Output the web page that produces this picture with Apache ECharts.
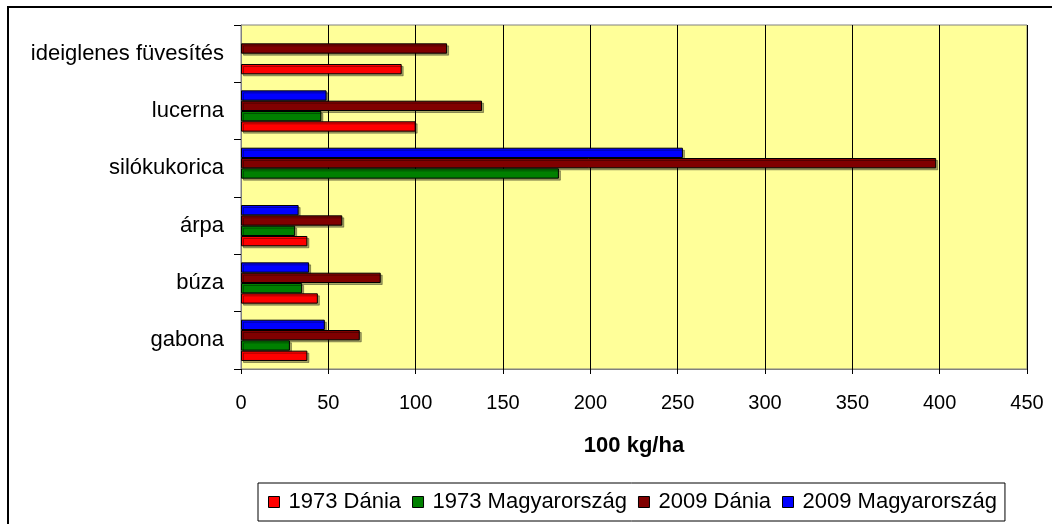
<!DOCTYPE html>
<html>
	<head>
		<meta charset="utf-8" />
		<title>Hozamok</title>
		<script src="https://cdn.jsdelivr.net/npm/echarts@6/dist/echarts.min.js"></script>
		<style>
			html, body { margin: 0; padding: 0; background: #fff; }
			#main { width: 1052px; height: 524px; }
		</style>
	</head>
	<body>
		<div id="main"></div>
	<script>
	// adatok
	var categories = ['gabona', 'búza', 'árpa', 'silókukorica', 'lucerna', 'ideiglenes füvesítés'];
	var dania1973 = [38, 44, 38, '-', 100, 92];
	var magyar1973 = [28, 35, 31, 182, 46, '-'];
	var dania2009 = [68, 80, 58, 398, 138, 118];
	var magyar2009 = [48, 39, 33, 253, 49, '-'];
	var seriesNames = ['1973 Dánia', '1973 Magyarország', '2009 Dánia', '2009 Magyarország'];
	var seriesColors = ['#FF0000', '#008000', '#800000', '#0000FF'];
	var xTicks = [0, 450, 50];

	var chart = echarts.init(document.getElementById('main'));

	function bar(i, data){
		return {
			name: seriesNames[i],
			type: 'bar',
			data: data,
			barGap: '0%',
			barCategoryGap: '28%',
			itemStyle: {
				color: seriesColors[i],
				borderColor: '#000',
				borderWidth: 1,
				shadowColor: 'rgba(0,0,0,0.35)',
				shadowOffsetX: 2,
				shadowOffsetY: 2
			}
		};
	}

	var option = {
		animation: false,
		textStyle: { fontFamily: 'Arial, "Liberation Sans", sans-serif', color: '#000' },
		graphic: [{
			type: 'rect',
			shape: { x: 8, y: 7, width: 1100, height: 600 },
			style: { fill: 'none', stroke: '#000', lineWidth: 2 },
			z: 0
		}],
		grid: {
			left: 241, right: 25, top: 25, bottom: 155,
			show: true,
			backgroundColor: '#FFFF99',
			borderColor: '#808080',
			borderWidth: 1
		},
		legend: {
			left: 258, top: 483,
			itemWidth: 11, itemHeight: 11, itemGap: 11,
			padding: [8, 8, 8, 10],
			borderColor: '#000', borderWidth: 1,
			icon: 'rect',
			textStyle: { fontSize: 22, color: '#000', padding: [0, 0, 0, 4] },
			data: seriesNames.map(function(n, i){
				return { name: n, itemStyle: { borderColor: '#000', borderWidth: 1, shadowColor: 'transparent' } };
			})
		},
		xAxis: {
			type: 'value',
			min: xTicks[0], max: xTicks[1], interval: xTicks[2],
			name: '100 kg/ha',
			nameLocation: 'middle',
			nameGap: 66,
			nameTextStyle: { fontSize: 22, fontWeight: 'bold', color: '#000' },
			axisLine: { show: true, lineStyle: { color: '#808080' } },
			axisTick: { show: true, length: 5, lineStyle: { color: '#000' } },
			axisLabel: { fontSize: 20, color: '#000', margin: 24 },
			splitLine: { show: true, lineStyle: { color: '#000', width: 1 } }
		},
		yAxis: {
			type: 'category',
			data: categories,
			axisLine: { show: true, lineStyle: { color: '#808080' } },
			axisTick: { show: true, length: 7, lineStyle: { color: '#000' } },
			axisLabel: { fontSize: 22, color: '#000', margin: 17 },
			splitLine: { show: false }
		},
		// a sorrend fordított, hogy a piros legyen alul
		series: [
			bar(3, magyar2009),
			bar(2, dania2009),
			bar(1, magyar1973),
			bar(0, dania1973)
		]
	};

	chart.setOption(option);
	</script>
	</body>
</html>
